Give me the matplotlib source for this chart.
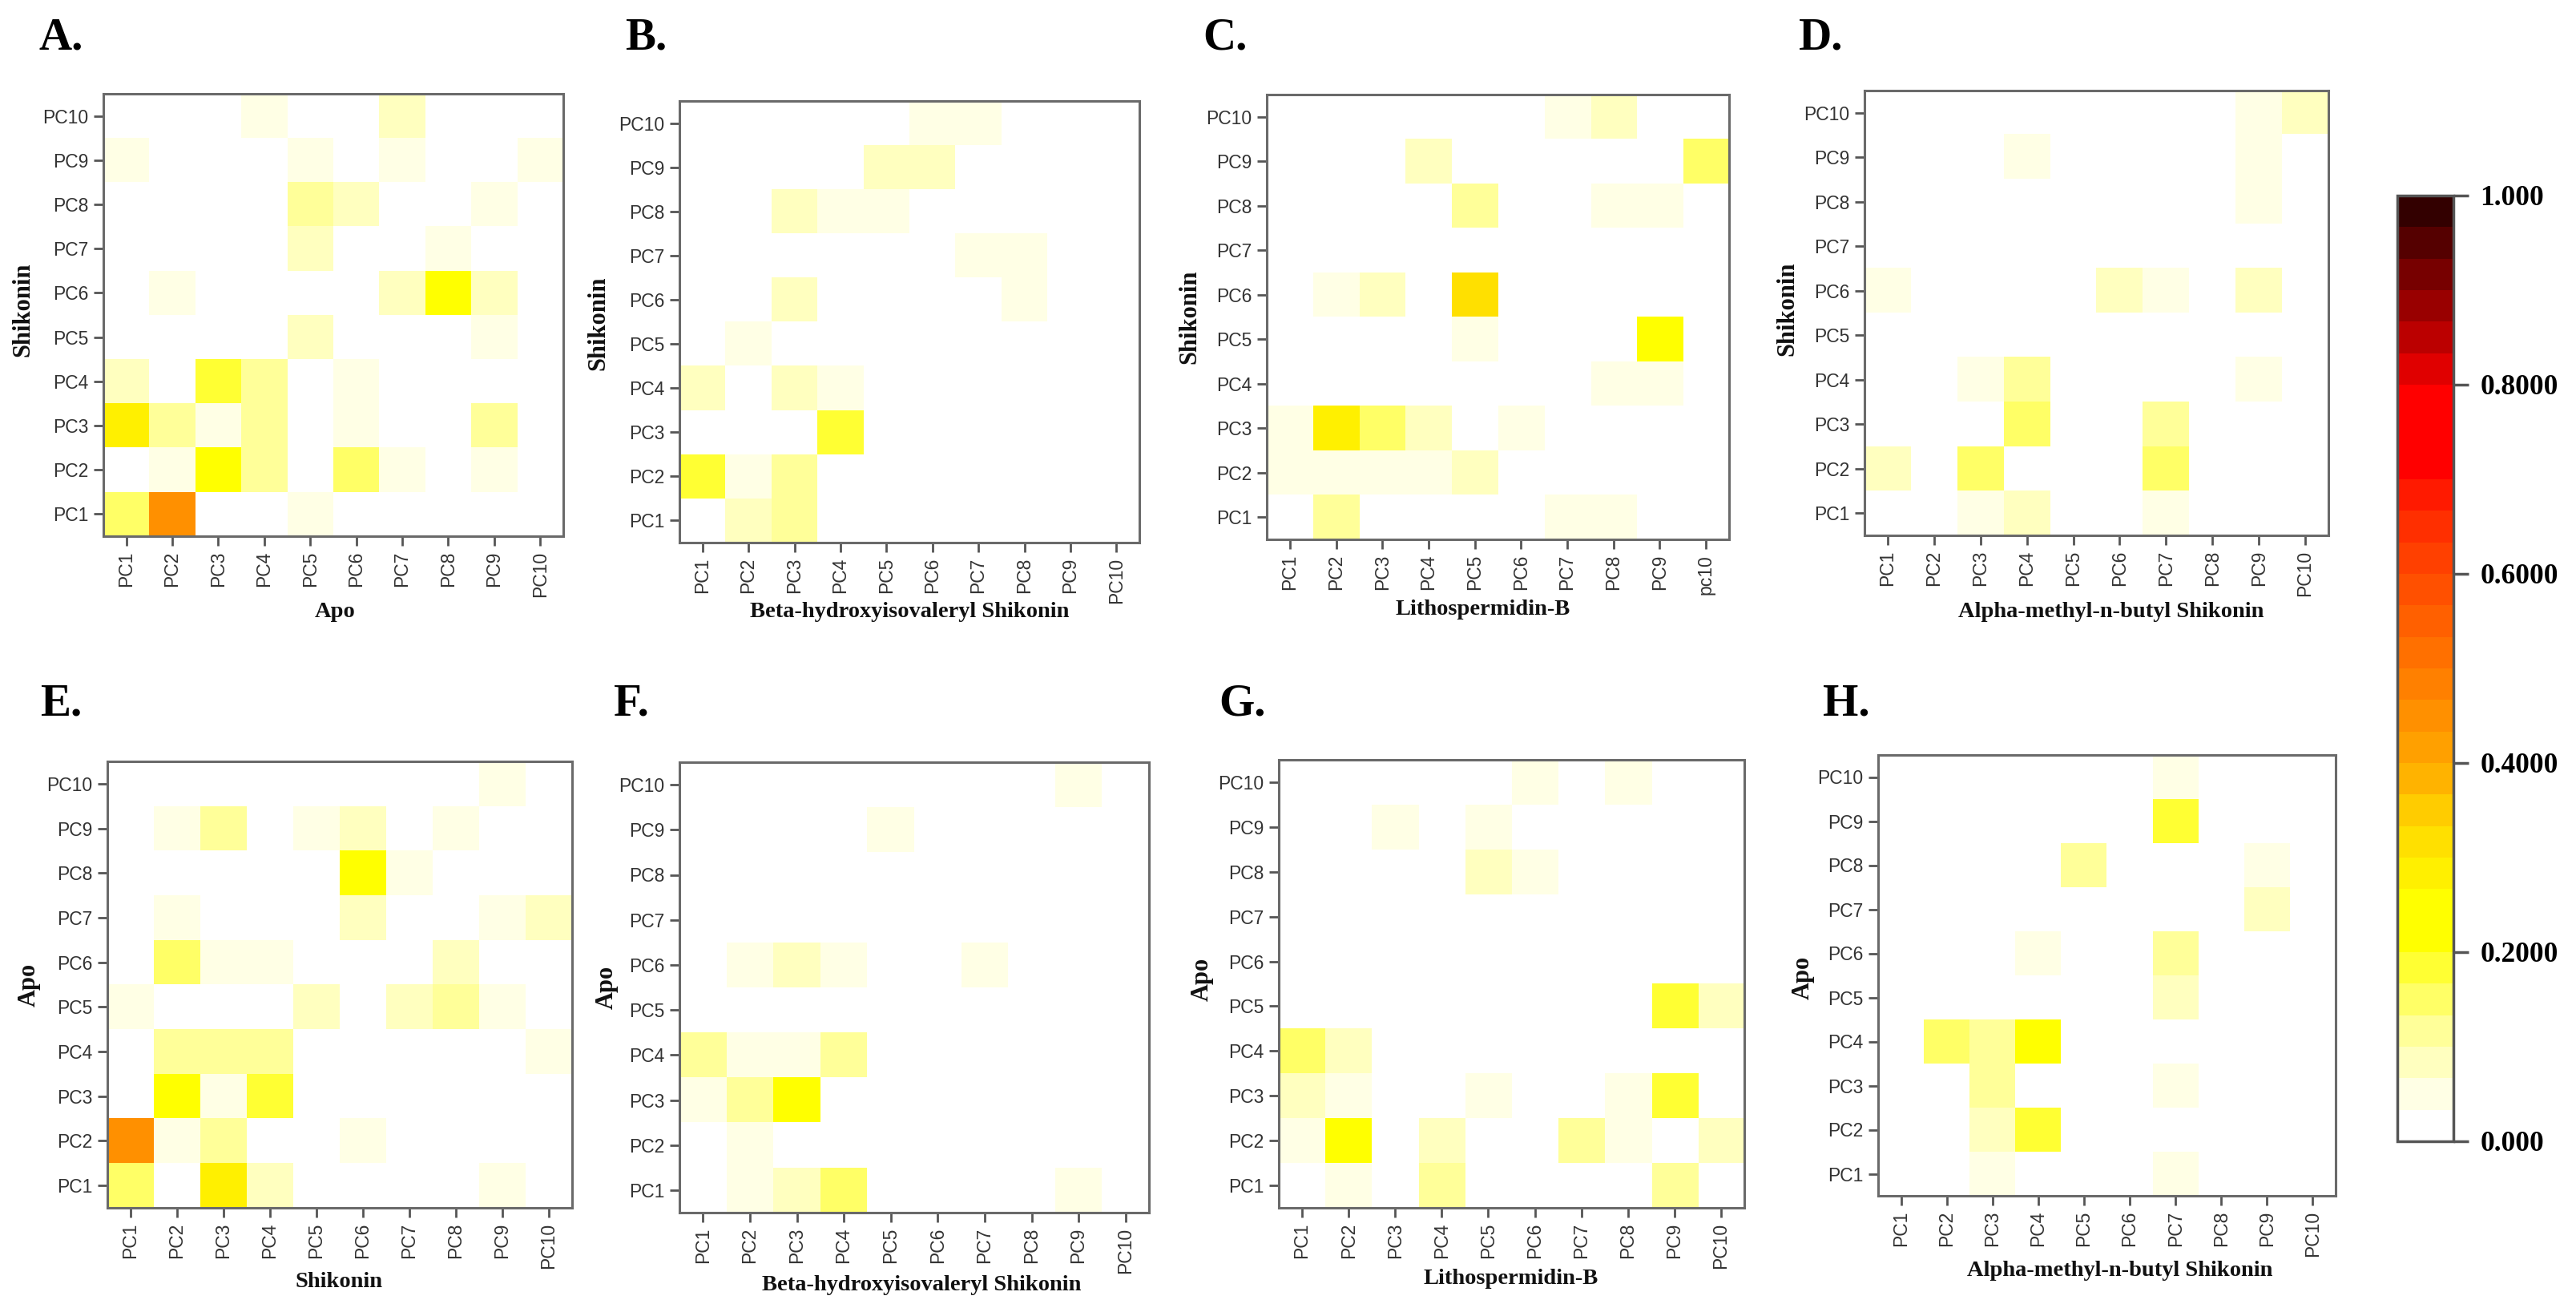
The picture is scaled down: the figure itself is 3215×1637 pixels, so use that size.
import numpy as np
import matplotlib
matplotlib.use('Agg')
import matplotlib.pyplot as plt
from matplotlib.colors import ListedColormap, BoundaryNorm
from matplotlib.cm import ScalarMappable

W, H = 3216, 1637

pc_labels = ['PC1', 'PC2', 'PC3', 'PC4', 'PC5', 'PC6', 'PC7', 'PC8', 'PC9', 'PC10']
pc_labels_c = pc_labels[:9] + ['pc10']

# rows run from PC10 (top) down to PC1 (bottom)
panel_a = [
    [0, 0, 0, .05, 0, 0, .08, 0, 0, 0],
    [.05, 0, 0, 0, .05, 0, .05, 0, 0, .05],
    [0, 0, 0, 0, .12, .08, 0, 0, .05, 0],
    [0, 0, 0, 0, .08, 0, 0, .05, 0, 0],
    [0, .05, 0, 0, 0, 0, .08, .22, .08, 0],
    [0, 0, 0, 0, .08, 0, 0, 0, .05, 0],
    [.08, 0, .18, .12, 0, .05, 0, 0, 0, 0],
    [.28, .12, .05, .12, 0, .05, 0, 0, .12, 0],
    [0, .05, .22, .12, 0, .15, .05, 0, .05, 0],
    [.15, .45, 0, 0, .05, 0, 0, 0, 0, 0],
]
panel_b = [
    [0, 0, 0, 0, 0, .05, .05, 0, 0, 0],
    [0, 0, 0, 0, .08, .08, 0, 0, 0, 0],
    [0, 0, .08, .05, .05, 0, 0, 0, 0, 0],
    [0, 0, 0, 0, 0, 0, .05, .05, 0, 0],
    [0, 0, .08, 0, 0, 0, 0, .05, 0, 0],
    [0, .05, 0, 0, 0, 0, 0, 0, 0, 0],
    [.08, 0, .08, .05, 0, 0, 0, 0, 0, 0],
    [0, 0, 0, .18, 0, 0, 0, 0, 0, 0],
    [.18, .05, .12, 0, 0, 0, 0, 0, 0, 0],
    [0, .08, .12, 0, 0, 0, 0, 0, 0, 0],
]
panel_c = [
    [0, 0, 0, 0, 0, 0, .05, .08, 0, 0],
    [0, 0, 0, .08, 0, 0, 0, 0, 0, .15],
    [0, 0, 0, 0, .12, 0, 0, .05, .05, 0],
    [0, 0, 0, 0, 0, 0, 0, 0, 0, 0],
    [0, .05, .08, 0, .32, 0, 0, 0, 0, 0],
    [0, 0, 0, 0, .05, 0, 0, 0, .22, 0],
    [0, 0, 0, 0, 0, 0, 0, .05, .05, 0],
    [.05, .28, .15, .08, 0, .05, 0, 0, 0, 0],
    [.05, .05, .05, .05, .08, 0, 0, 0, 0, 0],
    [0, .12, 0, 0, 0, 0, .05, .05, 0, 0],
]
panel_d = [
    [0, 0, 0, 0, 0, 0, 0, 0, .05, .08],
    [0, 0, 0, .05, 0, 0, 0, 0, .05, 0],
    [0, 0, 0, 0, 0, 0, 0, 0, .05, 0],
    [0, 0, 0, 0, 0, 0, 0, 0, 0, 0],
    [.05, 0, 0, 0, 0, .08, .05, 0, .08, 0],
    [0, 0, 0, 0, 0, 0, 0, 0, 0, 0],
    [0, 0, .05, .12, 0, 0, 0, 0, .05, 0],
    [0, 0, 0, .15, 0, 0, .12, 0, 0, 0],
    [.08, 0, .15, 0, 0, 0, .15, 0, 0, 0],
    [0, 0, .05, .08, 0, 0, .05, 0, 0, 0],
]
panel_e = [
    [0, 0, 0, 0, 0, 0, 0, 0, .05, 0],
    [0, .05, .12, 0, .05, .08, 0, .05, 0, 0],
    [0, 0, 0, 0, 0, .22, .05, 0, 0, 0],
    [0, .05, 0, 0, 0, .08, 0, 0, .05, .08],
    [0, .15, .05, .05, 0, 0, 0, .08, 0, 0],
    [.05, 0, 0, 0, .08, 0, .08, .12, .05, 0],
    [0, .12, .12, .12, 0, 0, 0, 0, 0, .05],
    [0, .22, .05, .18, 0, 0, 0, 0, 0, 0],
    [.45, .05, .12, 0, 0, .05, 0, 0, 0, 0],
    [.15, 0, .28, .08, 0, 0, 0, 0, .05, 0],
]
panel_f = [
    [0, 0, 0, 0, 0, 0, 0, 0, .05, 0],
    [0, 0, 0, 0, .05, 0, 0, 0, 0, 0],
    [0, 0, 0, 0, 0, 0, 0, 0, 0, 0],
    [0, 0, 0, 0, 0, 0, 0, 0, 0, 0],
    [0, .05, .08, .05, 0, 0, .05, 0, 0, 0],
    [0, 0, 0, 0, 0, 0, 0, 0, 0, 0],
    [.12, .05, .05, .12, 0, 0, 0, 0, 0, 0],
    [.05, .12, .22, 0, 0, 0, 0, 0, 0, 0],
    [0, .05, 0, 0, 0, 0, 0, 0, 0, 0],
    [0, .05, .08, .15, 0, 0, 0, 0, .05, 0],
]
panel_g = [
    [0, 0, 0, 0, 0, .05, 0, .05, 0, 0],
    [0, 0, .05, 0, .05, 0, 0, 0, 0, 0],
    [0, 0, 0, 0, .08, .05, 0, 0, 0, 0],
    [0, 0, 0, 0, 0, 0, 0, 0, 0, 0],
    [0, 0, 0, 0, 0, 0, 0, 0, 0, 0],
    [0, 0, 0, 0, 0, 0, 0, 0, .18, .08],
    [.15, .08, 0, 0, 0, 0, 0, 0, 0, 0],
    [.08, .05, 0, 0, .05, 0, 0, .05, .18, 0],
    [.05, .22, 0, .08, 0, 0, .12, .05, 0, .08],
    [0, .05, 0, .12, 0, 0, 0, 0, .12, 0],
]
panel_h = [
    [0, 0, 0, 0, 0, 0, .05, 0, 0, 0],
    [0, 0, 0, 0, 0, 0, .18, 0, 0, 0],
    [0, 0, 0, 0, .12, 0, 0, 0, .05, 0],
    [0, 0, 0, 0, 0, 0, 0, 0, .08, 0],
    [0, 0, 0, .05, 0, 0, .12, 0, 0, 0],
    [0, 0, 0, 0, 0, 0, .08, 0, 0, 0],
    [0, .15, .12, .22, 0, 0, 0, 0, 0, 0],
    [0, 0, .12, 0, 0, 0, .05, 0, 0, 0],
    [0, 0, .08, .18, 0, 0, 0, 0, 0, 0],
    [0, 0, .05, 0, 0, 0, .05, 0, 0, 0],
]

band_colors = [
    '#FFFFFF', '#FFFFE5', '#FFFFBF', '#FFFF99', '#FFFF66', '#FFFF33',
    '#FFFF00', '#FFFF00', '#FFF000', '#FFE000', '#FFCC00', '#FFB300',
    '#FFA000', '#FF9000', '#FF8000', '#FF7000', '#FF6000', '#FF5000',
    '#FF4000', '#FF2F00', '#FF1A00', '#FF0000', '#FF0000', '#FF0000',
    '#E00000', '#BB0000', '#990000', '#770000', '#550000', '#330000',
]
cbar_ticks = [0, 0.2, 0.4, 0.6, 0.8, 1.0]
cbar_labels = ['0.000', '0.2000', '0.4000', '0.6000', '0.8000', '1.000']

letters = ['A.', 'B.', 'C.', 'D.', 'E.', 'F.', 'G.', 'H.']
matrices = [panel_a, panel_b, panel_c, panel_d, panel_e, panel_f, panel_g, panel_h]
x_titles = ['Apo', 'Beta-hydroxyisovaleryl Shikonin', 'Lithospermidin-B',
            'Alpha-methyl-n-butyl Shikonin', 'Shikonin',
            'Beta-hydroxyisovaleryl Shikonin', 'Lithospermidin-B',
            'Alpha-methyl-n-butyl Shikonin']
y_titles = ['Shikonin'] * 4 + ['Apo'] * 4

# layout in pixels of the target picture: left, right, top, bottom
boxes = [(129, 703, 117, 669), (848, 1422, 126, 677), (1581, 2158, 118, 673),
         (2327, 2906, 113, 668), (134, 714, 950, 1507), (848, 1434, 951, 1513),
         (1596, 2177, 948, 1507), (2344, 2915, 942, 1492)]
xlab_pos = [(418, 764), (1135, 764), (1851, 760), (2635, 764),
            (423, 1600), (1150, 1603), (1886, 1595), (2646, 1586)]
ylab_pos = [(29, 386), (747, 403), (1485, 395), (2231, 385),
            (36, 1229), (757, 1232), (1500, 1222), (2250, 1220)]
letter_pos = [(49, 61), (780, 61), (1501, 61), (2245, 61),
              (50, 892), (766, 892), (1521, 892), (2275, 892)]

GREY = '#6a6a6a'
SERIF = 'Liberation Serif'
SANS = 'Liberation Sans'


def px_axes(fig, box):
    l, r, t, b = box
    return fig.add_axes([l / W, 1 - b / H, (r - l) / W, (b - t) / H])


fig = plt.figure(figsize=(W / 100, H / 100), dpi=100)
cmap = ListedColormap(band_colors)
norm = BoundaryNorm(np.linspace(0, 1, 31), 30)

for i in range(8):
    ax = px_axes(fig, boxes[i])
    ax.imshow(np.array(matrices[i]), cmap=cmap, norm=norm, aspect='auto',
              interpolation='nearest')
    xl = pc_labels_c if i == 2 else pc_labels
    ax.set_xticks(range(10))
    ax.set_xticklabels(xl, rotation=90, family=SANS, fontsize=16.5, color='#333333')
    ax.set_yticks(range(10))
    ax.set_yticklabels(pc_labels[::-1], family=SANS, fontsize=16.5, color='#333333')
    ax.tick_params(length=8.5, width=2, color='#555555', pad=5)
    for s in ax.spines.values():
        s.set_color(GREY)
        s.set_linewidth(2.2)
    fig.text(xlab_pos[i][0] / W, 1 - xlab_pos[i][1] / H, x_titles[i], family=SERIF,
             weight='bold', fontsize=20.5, ha='center', va='center', color='#111111')
    fig.text(ylab_pos[i][0] / W, 1 - ylab_pos[i][1] / H, y_titles[i], family=SERIF,
             weight='bold', fontsize=22, rotation=90, ha='center', va='center',
             color='#111111')
    fig.text(letter_pos[i][0] / W, 1 - letter_pos[i][1] / H, letters[i], family=SERIF,
             weight='bold', fontsize=41, ha='left', va='baseline', color='black')

# colour scale on the right
cax = px_axes(fig, (2992, 3062, 244, 1424))
cb = fig.colorbar(ScalarMappable(norm=norm, cmap=cmap), cax=cax, spacing='proportional',
                  drawedges=False)
cb.set_ticks(cbar_ticks)
cb.set_ticklabels(cbar_labels)
cb.ax.minorticks_off()
cb.ax.tick_params(length=14, width=2.5, color='#555555', pad=10)
for lab in cb.ax.get_yticklabels():
    lab.set_family(SERIF)
    lab.set_weight('bold')
    lab.set_fontsize(25.5)
    lab.set_color('black')
cb.outline.set_edgecolor('#555555')
cb.outline.set_linewidth(2.5)

plt.savefig('out.png', dpi=100)
